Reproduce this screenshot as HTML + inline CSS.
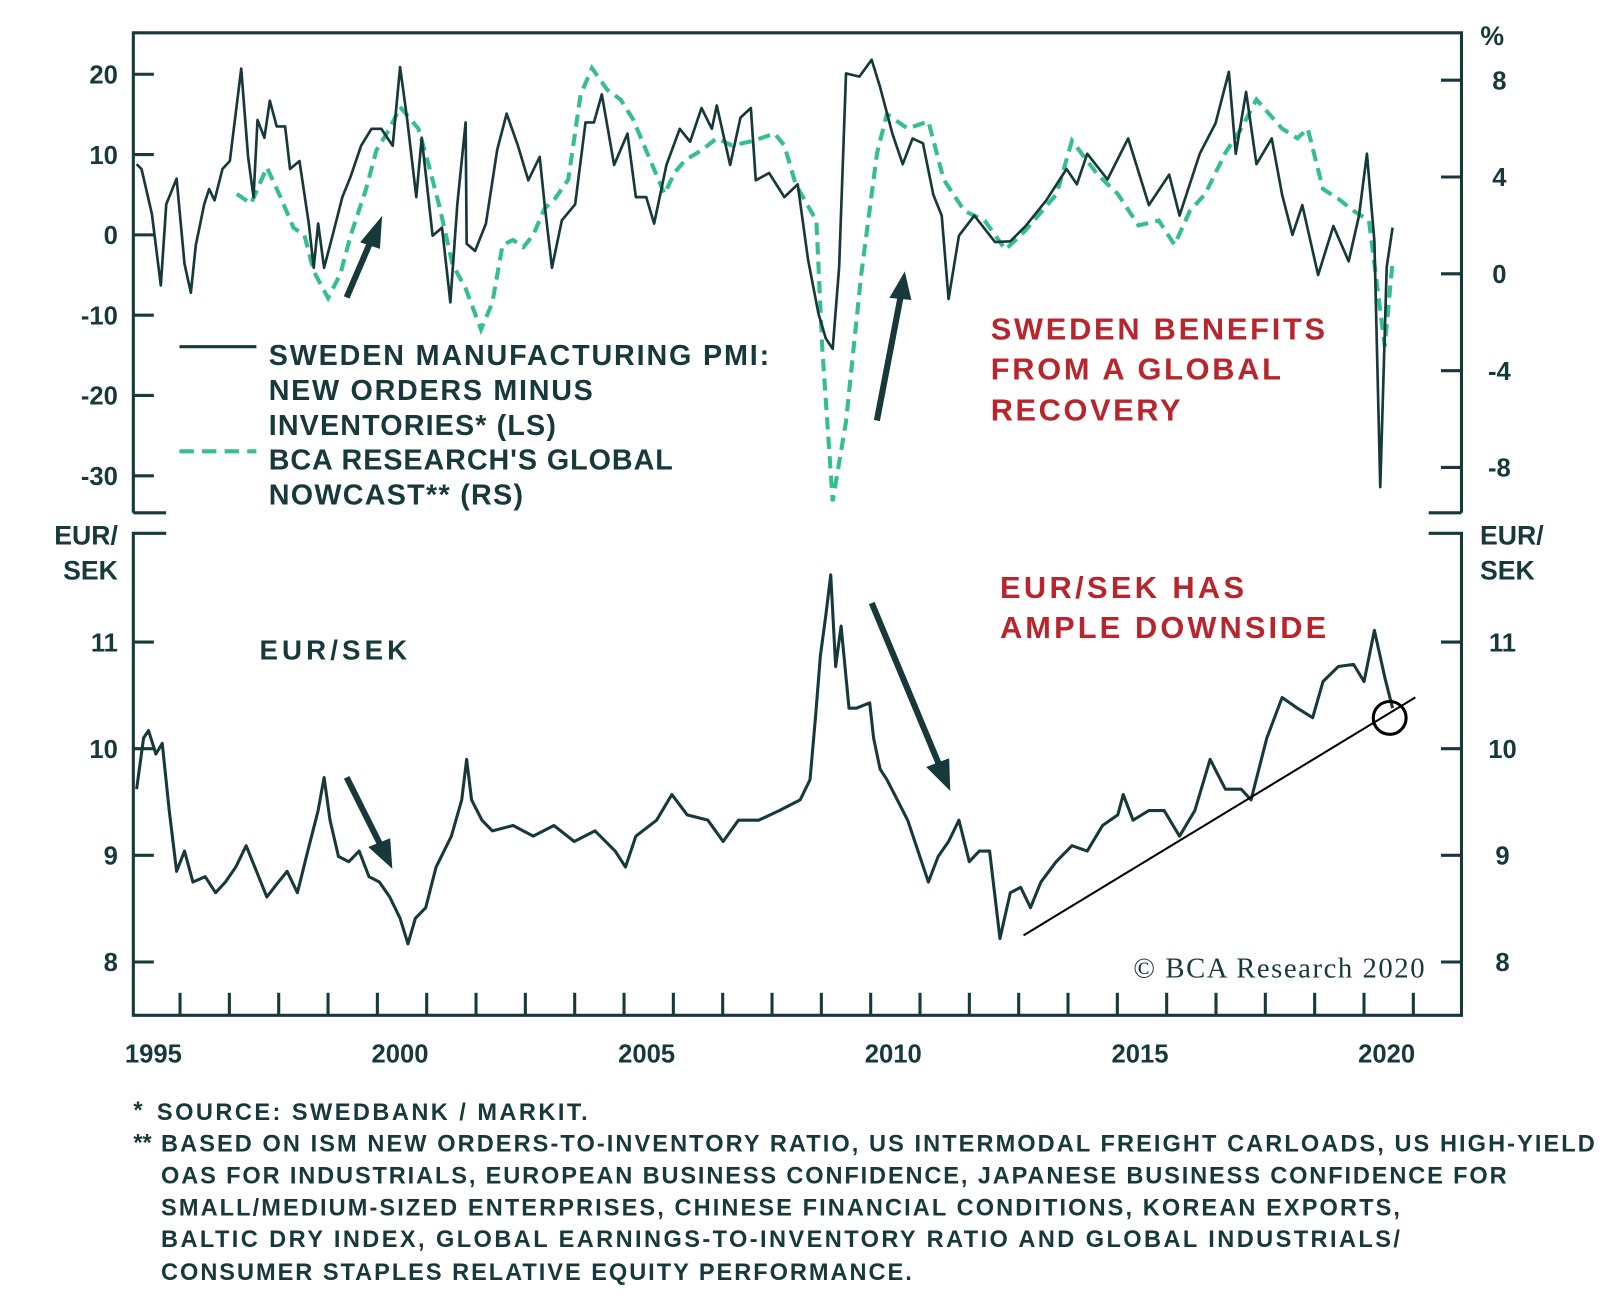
<!DOCTYPE html>
<html><head><meta charset="utf-8"><style>
html,body{margin:0;padding:0;background:#fff;}
svg{display:block;font-family:"Liberation Sans",sans-serif;}
.t{fill:#17393b;font-weight:bold;}
.r{fill:#b8252c;font-weight:bold;}
</style></head><body>
<svg id="chart" width="1600" height="1307" viewBox="0 0 1600 1307">
<g transform="scale(1.0256)">
<g id="frame" stroke="#17393b" stroke-width="3" fill="none">
<path d="M130 500 L130 32 L1425 32 L1425 500"/>
<path d="M130 500 L162 500 M1393 500 L1425 500"/>
<path d="M162 520 L130 520 L130 990 L1425 990 L1425 520 L1393 520"/>
</g>
<g id="ticks"></g>
<g id="series"></g>
<g id="annot" stroke="#17393b" fill="#17393b">
<line x1="338" y1="290" x2="362" y2="234" stroke-width="6"/>
<polygon points="372,212 352,236 370,242"/>
<line x1="855" y1="410" x2="878" y2="290" stroke-width="6"/>
<polygon points="882,266 868,290 888,292"/>
<line x1="338" y1="758" x2="370" y2="822" stroke-width="6"/>
<polygon points="382,846 360,826 380,818"/>
<line x1="850" y1="588" x2="915" y2="744" stroke-width="6"/>
<polygon points="926,770 904,748 925,740"/>
<line x1="998" y1="912" x2="1380" y2="680" stroke="#000" stroke-width="2"/>
<circle cx="1355" cy="700" r="16" fill="none" stroke="#000" stroke-width="3"/>
</g>
<g>
<line x1="175" y1="338" x2="250" y2="338" stroke="#17393b" stroke-width="3"/>
<line x1="175" y1="440" x2="250" y2="440" stroke="#35bf8e" stroke-width="4" stroke-dasharray="14,8"/>
<text class="t" font-size="28" x="262" y="356" textLength="488">SWEDEN MANUFACTURING PMI:</text>
<text class="t" font-size="28" x="262" y="390" textLength="316">NEW ORDERS MINUS</text>
<text class="t" font-size="28" x="262" y="424" textLength="280">INVENTORIES* (LS)</text>
<text class="t" font-size="28" x="262" y="458" textLength="394">BCA RESEARCH'S GLOBAL</text>
<text class="t" font-size="28" x="262" y="492" textLength="248">NOWCAST** (RS)</text>
</g>
<g>
<text class="r" font-size="30" x="966" y="331" textLength="326">SWEDEN BENEFITS</text>
<text class="r" font-size="30" x="966" y="370" textLength="283">FROM A GLOBAL</text>
<text class="r" font-size="30" x="966" y="410" textLength="185">RECOVERY</text>
<text class="r" font-size="30" x="975" y="583" textLength="238">EUR/SEK HAS</text>
<text class="r" font-size="30" x="975" y="622" textLength="318">AMPLE DOWNSIDE</text>
<text class="t" font-size="27" x="253" y="643" textLength="144">EUR/SEK</text>
<text font-size="28" x="1105" y="953" fill="#17393b" font-family="Liberation Serif,serif" textLength="284">© BCA Research 2020</text>
</g>
<g>
<text class="t" font-size="26" x="1455" y="44" text-anchor="middle">%</text>
<text class="t" font-size="26" x="115" y="531" text-anchor="end">EUR/</text>
<text class="t" font-size="26" x="115" y="565" text-anchor="end">SEK</text>
<text class="t" font-size="26" x="1443" y="531">EUR/</text>
<text class="t" font-size="26" x="1443" y="565">SEK</text>
</g>
<g class="t" font-size="23">
<text class="t" x="130" y="1090">*</text>
<text class="t" x="153" y="1092" textLength="420">SOURCE: SWEDBANK / MARKIT.</text>
<text class="t" x="130" y="1122">**</text>
<text class="t" x="157" y="1123" textLength="1398">BASED ON ISM NEW ORDERS-TO-INVENTORY RATIO, US INTERMODAL FREIGHT CARLOADS, US HIGH-YIELD</text>
<text class="t" x="157" y="1154" textLength="1312">OAS FOR INDUSTRIALS, EUROPEAN BUSINESS CONFIDENCE, JAPANESE BUSINESS CONFIDENCE FOR</text>
<text class="t" x="157" y="1185" textLength="1208">SMALL/MEDIUM-SIZED ENTERPRISES, CHINESE FINANCIAL CONDITIONS, KOREAN EXPORTS,</text>
<text class="t" x="157" y="1216" textLength="1208">BALTIC DRY INDEX, GLOBAL EARNINGS-TO-INVENTORY RATIO AND GLOBAL INDUSTRIALS/</text>
<text class="t" x="157" y="1248" textLength="732">CONSUMER STAPLES RELATIVE EQUITY PERFORMANCE.</text>
</g>
</g>
</svg>
<script>
const pmiDates=[1994.62,1994.72,1994.93,1995.11,1995.22,1995.43,1995.59,1995.72,1995.82,1995.99,1996.09,1996.20,1996.36,1996.51,1996.74,1996.88,1996.99,1997.07,1997.21,1997.32,1997.46,1997.63,1997.73,1997.92,1998.11,1998.21,1998.30,1998.42,1998.59,1998.79,1998.96,1999.17,1999.38,1999.58,1999.81,1999.96,2000.10,2000.29,2000.40,2000.62,2000.81,2000.98,2001.12,2001.29,2001.31,2001.48,2001.70,2001.93,2002.12,2002.35,2002.56,2002.79,2002.89,2003.04,2003.24,2003.51,2003.72,2003.89,2004.05,2004.30,2004.57,2004.74,2004.95,2005.11,2005.36,2005.63,2005.84,2006.07,2006.28,2006.38,2006.65,2006.86,2007.07,2007.17,2007.44,2007.75,2008.02,2008.23,2008.44,2008.59,2008.73,2008.86,2009.00,2009.27,2009.52,2009.69,2009.94,2010.15,2010.35,2010.56,2010.77,2010.94,2011.08,2011.29,2011.60,2012.02,2012.33,2012.64,2013.06,2013.47,2013.68,2013.89,2014.30,2014.72,2015.14,2015.55,2015.76,2016.17,2016.49,2016.76,2016.90,2017.11,2017.32,2017.63,2017.84,2018.05,2018.25,2018.57,2018.88,2019.19,2019.40,2019.56,2019.71,2019.83,2019.96,2020.08];
const pmiValues=[8.8,8.2,2.6,-6.3,3.8,7.0,-3.6,-7.2,-1.3,3.8,5.7,4.3,8.2,9.2,20.7,9.7,4.7,14.3,12.1,16.7,13.5,13.5,8.2,9.2,1.4,-4.1,1.4,-4.1,-0.1,4.7,7.3,11.1,13.2,13.2,11.1,20.9,14.6,4.7,12.1,-0.1,0.9,-8.4,3.8,14.0,-1.1,-2.0,1.4,10.6,15.1,11.1,6.8,9.7,3.8,-4.1,1.8,3.8,14.0,14.0,17.5,8.7,12.6,4.7,4.7,1.4,8.7,13.2,11.6,15.8,13.2,16.1,8.7,14.6,15.8,6.8,7.7,4.7,6.3,-3.1,-9.8,-12.9,-14.2,-4.0,20.1,19.7,21.8,18.4,12.6,8.8,12.0,11.4,5.0,2.4,-8.0,-0.1,2.4,-0.9,-0.8,1.1,4.3,8.2,6.3,10.1,6.9,12.0,3.7,7.5,2.4,10.1,13.9,20.3,10.1,17.8,8.8,12.0,5.0,0,3.7,-5.0,1.1,-3.3,2.4,10.1,-0.8,-31.4,-4.0,0.9];
const nowDates=[1996.65,1996.94,1997.26,1997.53,1997.80,1998.02,1998.21,1998.50,1998.75,1998.96,1999.27,1999.48,1999.75,1999.96,2000.33,2000.54,2000.77,2001.02,2001.29,2001.60,2001.83,2002.04,2002.25,2002.46,2002.66,2002.89,2003.10,2003.37,2003.62,2003.85,2004.16,2004.43,2004.68,2005.01,2005.32,2005.53,2005.74,2006.07,2006.38,2006.69,2007.13,2007.55,2007.75,2007.98,2008.40,2008.52,2008.73,2009.00,2009.31,2009.63,2009.83,2010.25,2010.67,2010.98,2011.40,2011.81,2012.23,2012.64,2013.27,2013.58,2014.10,2014.51,2014.93,2015.34,2015.66,2015.97,2016.28,2016.69,2017.01,2017.32,2017.84,2018.15,2018.36,2018.67,2018.98,2019.29,2019.60,2019.92,2020.08];
const nowValues=[3.3,2.9,4.4,3.2,1.9,1.6,0.1,-1.0,0,1.6,3.5,5.1,6.0,6.9,6.0,4.5,2.7,0.4,-0.6,-2.3,-1.2,1.2,1.4,1.1,1.6,2.7,3.1,3.9,7.4,8.5,7.6,7.2,6.4,4.8,3.3,4.2,4.7,5.1,5.6,5.3,5.5,5.8,5.3,3.7,2.2,-3.1,-9.4,-6.1,0,5.0,6.6,6.0,6.3,3.9,2.6,2.2,1.0,1.8,3.3,5.5,4.1,3.3,2.0,2.2,1.2,2.6,3.3,5.0,6.0,7.2,6.0,5.6,6.0,3.5,3.1,2.6,2.2,-3.0,0.5];
const fxDates=[1994.62,1994.76,1994.86,1995.01,1995.14,1995.28,1995.43,1995.59,1995.76,1996.01,1996.22,1996.42,1996.63,1996.84,1997.05,1997.26,1997.46,1997.67,1997.88,1998.09,1998.30,1998.42,1998.54,1998.71,1998.92,1999.13,1999.33,1999.54,1999.75,1999.96,2000.12,2000.27,2000.48,2000.69,2001.00,2001.21,2001.31,2001.41,2001.62,2001.83,2002.25,2002.66,2003.08,2003.49,2003.91,2004.32,2004.53,2004.74,2005.16,2005.47,2005.78,2006.20,2006.51,2006.82,2007.23,2007.65,2008.07,2008.27,2008.38,2008.48,2008.59,2008.69,2008.79,2008.90,2009.06,2009.21,2009.48,2009.56,2009.69,2009.83,2010.04,2010.25,2010.46,2010.67,2010.87,2011.08,2011.29,2011.50,2011.70,2011.91,2012.12,2012.33,2012.54,2012.74,2012.95,2013.26,2013.58,2013.89,2014.20,2014.51,2014.62,2014.82,2015.14,2015.45,2015.76,2016.07,2016.38,2016.69,2017.01,2017.21,2017.53,2017.84,2018.15,2018.46,2018.67,2018.98,2019.29,2019.50,2019.71,2019.92,2020.08];
const fxValues=[9.62,10.10,10.17,9.95,10.05,9.42,8.85,9.04,8.75,8.80,8.65,8.75,8.89,9.09,8.85,8.61,8.73,8.85,8.65,9.04,9.42,9.73,9.33,8.99,8.94,9.04,8.80,8.75,8.61,8.41,8.17,8.41,8.51,8.89,9.18,9.52,9.90,9.52,9.33,9.23,9.28,9.18,9.28,9.13,9.23,9.04,8.89,9.18,9.33,9.57,9.38,9.33,9.13,9.33,9.33,9.42,9.52,9.71,10.29,10.87,11.25,11.63,10.77,11.15,10.38,10.38,10.43,10.10,9.81,9.71,9.52,9.33,9.04,8.75,8.99,9.13,9.33,8.94,9.04,9.04,8.22,8.65,8.70,8.51,8.75,8.94,9.09,9.04,9.28,9.38,9.57,9.33,9.42,9.42,9.18,9.42,9.90,9.62,9.62,9.52,10.10,10.48,10.38,10.29,10.63,10.77,10.79,10.63,11.11,10.67,10.38];
const leftTicks=[20,10,0,-10,-20,-30];
const rightTicks=[8,4,0,-4,-8];
const fxTicks=[11,10,9,8];
const yearLabels=[1995,2000,2005,2010,2015,2020];

const NS='http://www.w3.org/2000/svg';
const xs=yr=>392+(yr-2000)*48.1;
const yL=v=>229-v*7.83;
const yR=v=>267-v*23.6;
const yFx=v=>730-(v-10)*104;
function mk(tag,attrs,parent){const e=document.createElementNS(NS,tag);for(const k in attrs)e.setAttribute(k,attrs[k]);parent.appendChild(e);return e;}
const T=document.getElementById('ticks');
const S=document.getElementById('series');
const C='#17393b';
leftTicks.forEach(v=>{
  const l=mk('line',{x1:130,x2:150,y1:yL(v),y2:yL(v),stroke:C,'stroke-width':3},T);
  
  
  const t=mk('text',{x:115,y:yL(v)+9,'text-anchor':'end','font-size':25,class:'t'},T);
  t.textContent=v;
  
  
});
rightTicks.forEach(v=>{
  const l=mk('line',{x1:1405,x2:1425,y1:yR(v),y2:yR(v),stroke:C,'stroke-width':3},T);
  
  
  const t=mk('text',{x:1462,y:yR(v)+9,'text-anchor':'middle','font-size':25,class:'t'},T);
  t.textContent=v;
  
  
});
fxTicks.forEach(v=>{
  const l=mk('line',{x1:130,x2:150,y1:yFx(v),y2:yFx(v),stroke:C,'stroke-width':3},T);
  
  
  const l2=mk('line',{x1:1405,x2:1425,y1:yFx(v),y2:yFx(v),stroke:C,'stroke-width':3},T);
  
  
  const t=mk('text',{x:115,y:yFx(v)+9,'text-anchor':'end','font-size':25,class:'t'},T);
  t.textContent=v;
  
  
  const t2=mk('text',{x:1465,y:yFx(v)+9,'text-anchor':'middle','font-size':25,class:'t'},T);
  t2.textContent=v;
  
  
});
for(let yr=1995;yr<=2020;yr++){
  const x=xs(yr+0.5);
  const l=mk('line',{x1:x,x2:x,y1:968,y2:990,stroke:C,'stroke-width':3},T);
  
  
}
yearLabels.forEach(yr=>{
  const t=mk('text',{x:xs(yr)-2,y:1036,'text-anchor':'middle','font-size':25,class:'t'},T);
  t.textContent=yr;
  
  
});
function path(d,vals,fy){return d.map((yr,i)=>(i?'L':'M')+xs(yr).toFixed(1)+' '+fy(vals[i]).toFixed(1)).join(' ');}
const pn=mk('path',{d:path(nowDates,nowValues,yR),fill:'none',stroke:'#35bf8e','stroke-width':4,'stroke-dasharray':'12,7'},S);


const pp=mk('path',{d:path(pmiDates,pmiValues,yL),fill:'none',stroke:C,'stroke-width':2.6,'stroke-linejoin':'round'},S);


const pf=mk('path',{d:path(fxDates,fxValues,yFx),fill:'none',stroke:C,'stroke-width':3,'stroke-linejoin':'round'},S);


</script>
</body></html>
